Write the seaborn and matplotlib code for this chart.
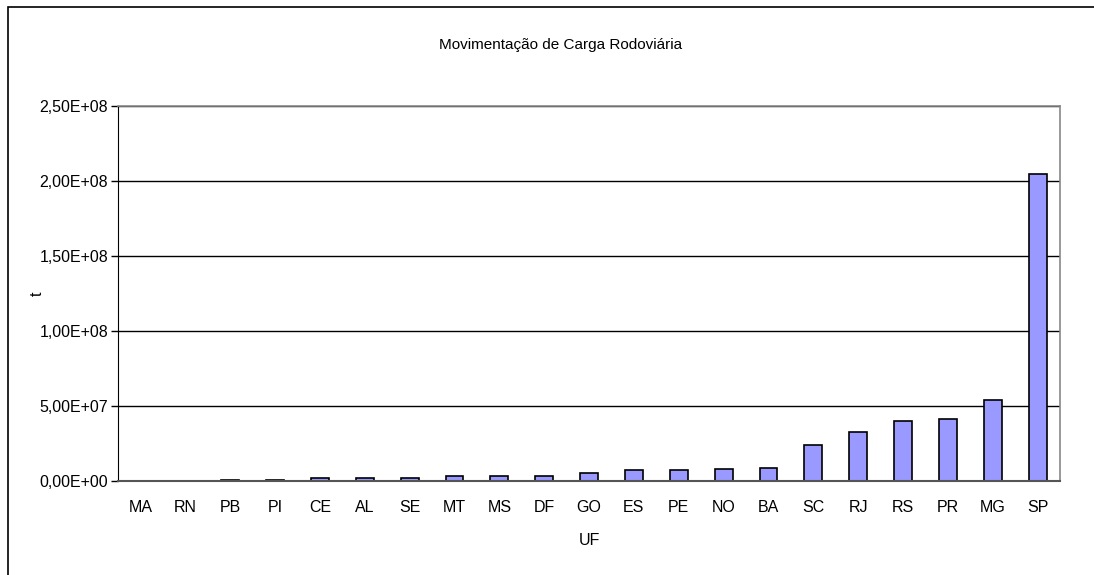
import matplotlib
matplotlib.use('Agg')
import matplotlib.pyplot as plt
import matplotlib.ticker as mticker
from matplotlib.patches import Rectangle
import seaborn as sns
import pandas as pd

uf = ['MA', 'RN', 'PB', 'PI', 'CE', 'AL', 'SE', 'MT', 'MS', 'DF', 'GO',
      'ES', 'PE', 'NO', 'BA', 'SC', 'RJ', 'RS', 'PR', 'MG', 'SP']
# toneladas (em milhoes)
carga_mi = [0.0, 0.2, 0.7, 0.7, 2.2, 2.2, 2.1, 3.1, 3.0, 3.0, 5.1,
            7.1, 7.0, 7.8, 8.9, 24.2, 32.7, 40.2, 41.2, 53.8, 204.4]

df = pd.DataFrame({'UF': uf, 't': [v * 1e6 for v in carga_mi]})

sns.set_style('white')
plt.rcParams['font.family'] = ['Liberation Sans', 'DejaVu Sans']

fig = plt.figure(figsize=(10.94, 5.75), dpi=100)
ax = fig.add_axes([0.1079, 0.1635, 0.969 - 0.1079, 0.8157 - 0.1635])

sns.barplot(data=df, x='UF', y='t', color='#9999FF', edgecolor='black',
            linewidth=1.2, width=0.4, saturation=1, ax=ax)

ax.set_ylim(0, 2.5e8)
ax.set_xlim(-0.5, len(uf) - 0.5)
ax.yaxis.set_major_locator(mticker.MultipleLocator(5e7))
ax.yaxis.set_major_formatter(mticker.FuncFormatter(lambda v, p: f'{v:.2E}'.replace('.', ',')))
ax.grid(axis='y', color='black', linewidth=1)
ax.set_axisbelow(True)

# ticks entre categorias, estilo Excel
ax.set_xticks(range(len(uf)))
ax.set_xticklabels(uf)
ax.set_xticks([i - 0.5 for i in range(len(uf) + 1)], minor=True)
ax.tick_params(axis='x', which='major', length=0, pad=14, labelsize=11.5, labelcolor='black')
ax.tick_params(axis='x', which='minor', length=5, width=1, color='#555555', direction='out')
ax.tick_params(axis='y', which='major', length=5, width=1, color='black', direction='out',
               left=True, labelsize=11.5, pad=2, labelcolor='black')

for side in ['top', 'right']:
    ax.spines[side].set_color('#888888')
    ax.spines[side].set_linewidth(1.2)
ax.spines['left'].set_color('black')
ax.spines['bottom'].set_color('#555555')
ax.spines['bottom'].set_linewidth(1.5)

ax.set_xlabel('UF', fontsize=11.5, color='black')
ax.xaxis.set_label_coords(0.5, -0.14)
ax.set_ylabel('t', fontsize=11.5, color='black')
ax.yaxis.set_label_coords(-0.078, 0.5)
fig.text(0.512, 0.921, 'Movimentação de Carga Rodoviária', ha='center', va='center',
         fontsize=11, color='black')

# moldura do grafico
fig.patches.append(Rectangle((0.0069, -0.1), 1.2, 0.987 + 0.1, transform=fig.transFigure,
                             fill=False, edgecolor='black', linewidth=1.2))

fig.savefig('out.png', dpi=100)
